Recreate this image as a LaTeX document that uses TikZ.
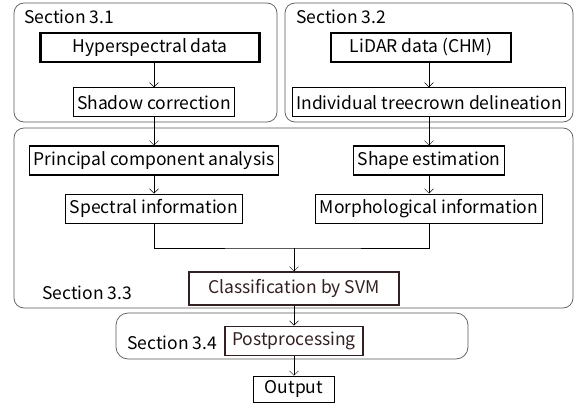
\documentclass[tikz,border=0pt]{standalone}
\usepackage{fontspec}
\setmainfont{Noto Sans CJK JP}
\usetikzlibrary{arrows.meta, positioning}

\definecolor{darkbrown}{rgb}{0.2,0.13,0.13}

\begin{document}
\begin{tikzpicture}[
    x=1pt, y=1pt,
    box/.style={rectangle, draw, line width=1.1pt, minimum height=29pt, inner xsep=4pt, inner ysep=0pt, font=\fontsize{17.5}{20}\selectfont},
    inbox/.style={box, line width=2.6pt},
    frame/.style={draw=black!65, line width=0.7pt, rounded corners=10pt},
    seclabel/.style={anchor=west, inner sep=0pt, font=\fontsize{17.5}{20}\selectfont},
    >={Straight Barb[length=4.5pt, width=9pt]}
]
\useasboundingbox (0,0) rectangle (578,-407);

% Section frames
\draw[frame] (14,-3) rectangle (277,-122);
\draw[frame] (285,-3) rectangle (573,-122);
\draw[frame] (14,-128) rectangle (573,-308);
\draw[frame, rounded corners=12pt] (116,-313) rectangle (468,-359);

% Section labels
\node[seclabel] (sec1) at (24,-17) {Section 3.1};
\node[seclabel] (sec2) at (296,-17) {Section 3.2};
\node[seclabel] (sec3) at (42,-293) {Section 3.3};
\node[seclabel] (sec4) at (127,-343) {Section 3.4};

% Nodes
\node[inbox, minimum width=219pt] (hyper) at (150,-47.5) {Hyperspectral data};
\node[box, below=24pt of hyper, xshift=4pt] (shadow) {Shadow correction};
\node[inbox, minimum width=180pt] (lidar) at (421,-47.5) {LiDAR data (CHM)};
\node[box, below=24pt of lidar, xshift=8pt] (treecrown) {Individual treecrown delineation};
\node[box, below=28pt of shadow] (pca) {Principal component analysis};
\node[box, below=28pt of treecrown] (shape) {Shape estimation};
\node[box, below=18pt of pca] (spectral) {Spectral information};
\node[box, below=18pt of shape] (morph) {Morphological information};
\node[box, draw=darkbrown, text=darkbrown, minimum height=33pt, minimum width=210pt] (classify) at (294,-288.5) {Classification by SVM};
\node[box, draw=darkbrown, text=darkbrown, minimum width=138pt, below=20pt of classify] (post) {Postprocessing};
\node[box, minimum height=26pt, minimum width=81pt, below=20pt of post] (output) {Output};

% Arrows inside the sections
\draw[->] (hyper.south -| shadow) -- (shadow);
\draw[->] (lidar.south -| treecrown) -- (treecrown);
\draw[->] (shadow) -- (pca);
\draw[->] (treecrown) -- (shape);
\draw[->] (pca) -- (spectral);
\draw[->] (shape) -- (morph);

% Joining both branches
\coordinate (join) at (classify.north |- 0,-248);
\draw (spectral) |- (join) -| (morph);
\draw[->] (join) -- (classify);
\draw[->] (classify) -- (post);
\draw[->] (post) -- (output);

\end{tikzpicture}
\end{document}
